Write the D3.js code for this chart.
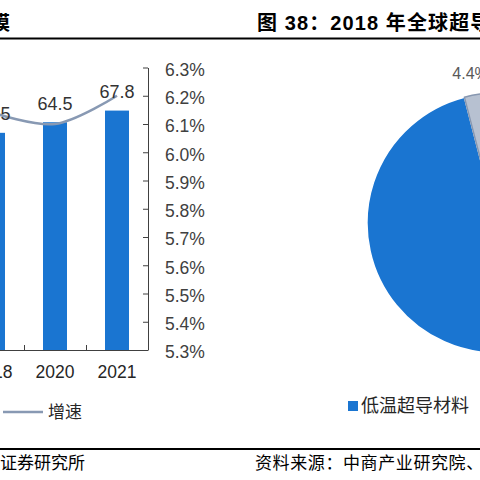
<!DOCTYPE html>
<html>
<head>
<meta charset="utf-8">
<script src="https://cdn.jsdelivr.net/npm/d3@7/dist/d3.min.js"></script>
<style>
  html, body { margin: 0; padding: 0; background: #fff; }
  svg { display: block; }
</style>
</head>
<body>
<svg id="chart" width="480" height="480"></svg>
<script>
// ---- Left chart data (bars: market size, line: growth rate) ----
const years = ["2018", "2020", "2021"];
const marketSize = [61.5, 64.5, 67.8];
const growthRate = [6.14, 6.10, 6.20];
const rightTicks = [5.3, 5.4, 5.5, 5.6, 5.7, 5.8, 5.9, 6.0, 6.1, 6.2, 6.3];

// ---- Right chart data (pie: 2018 structure) ----
const pieCategories = ["低温超导材料", "高温超导材料"];
const pieShares = [95.6, 4.4];
const pieLabels = ["", "4.4%"];

// ---- Texts ----
const leftTitle = "图 37：2015-2021 年全球超导材料市场规模";
const rightTitle = "图 38：2018 年全球超导材料市场结构";
const leftSource = "证券研究所";
const rightSource = "资料来源：中商产业研究院、国信证券经济研究所整理";
const lineLegend = "增速";

const svg = d3.select("#chart");
const LATIN = "'Liberation Sans', Arial, 'Noto Sans CJK SC', sans-serif";
const CJK = "'Noto Sans CJK SC', 'Liberation Sans', sans-serif";
const BLUE = "#1a75d1";
const GREY_LINE = "#8899b3";
const AXIS = "#404040";

// ---- Header & footer rules ----
svg.append("line").attr("x1", 0).attr("x2", 480).attr("y1", 38.5).attr("y2", 38.5)
  .attr("stroke", "#000").attr("stroke-width", 2);
svg.append("line").attr("x1", 0).attr("x2", 480).attr("y1", 449).attr("y2", 449)
  .attr("stroke", "#000").attr("stroke-width", 2);

svg.append("text").attr("x", 10).attr("y", 30).attr("text-anchor", "end")
  .attr("font-family", CJK).attr("font-weight", "bold").attr("font-size", 19.5)
  .attr("fill", "#000").text(leftTitle);
svg.append("text").attr("x", 257).attr("y", 30)
  .attr("font-family", LATIN).attr("font-weight", "bold").attr("font-size", 20)
  .attr("letter-spacing", 1.1).attr("fill", "#000").text(rightTitle);

svg.append("text").attr("x", 0).attr("y", 469)
  .attr("font-family", CJK).attr("font-size", 17).attr("fill", "#000").text(leftSource);
svg.append("text").attr("x", 255).attr("y", 469)
  .attr("font-family", CJK).attr("font-size", 17).attr("letter-spacing", 0.6)
  .attr("fill", "#000").text(rightSource);

// ---- Left chart ----
const x = d3.scaleBand().domain(years).range([-38, 148])
  .paddingInner(0.613).paddingOuter(0.3065);
const yLeft = d3.scaleLinear().domain([0, 80]).range([350, 67.5]);
const yRight = d3.scaleLinear().domain([5.3, 6.3]).range([350, 67.5]);

const left = svg.append("g");

left.selectAll("rect.bar").data(years).join("rect").attr("class", "bar")
  .attr("x", d => x(d)).attr("width", x.bandwidth())
  .attr("y", (d, i) => yLeft(marketSize[i]))
  .attr("height", (d, i) => yLeft(0) - yLeft(marketSize[i]))
  .attr("fill", BLUE);

// growth line (smoothed)
const line = d3.line()
  .x((d, i) => x(years[i]) + x.bandwidth() / 2)
  .y(d => yRight(d))
  .curve(d3.curveCatmullRom.alpha(0.5));
left.append("path").datum(growthRate).attr("d", line)
  .attr("fill", "none").attr("stroke", GREY_LINE).attr("stroke-width", 2.5);

// bar value labels
left.selectAll("text.val").data(years).join("text").attr("class", "val")
  .attr("x", d => x(d) + x.bandwidth() / 2)
  .attr("y", (d, i) => yLeft(marketSize[i]) - 12.5)
  .attr("text-anchor", "middle").attr("font-family", LATIN).attr("font-size", 18)
  .attr("fill", "#333").text((d, i) => marketSize[i].toFixed(1));

// right axis (ticks inward)
const rAxis = d3.axisRight(yRight).tickValues(rightTicks)
  .tickFormat(d => d.toFixed(1) + "%").tickSizeInner(-5).tickSizeOuter(0).tickPadding(17);
const rg = left.append("g").attr("transform", "translate(148,0)").call(rAxis);
rg.select(".domain").attr("stroke", AXIS);
rg.selectAll(".tick line").attr("stroke", AXIS);
rg.selectAll(".tick text").attr("font-family", LATIN).attr("font-size", 17.5)
  .attr("fill", AXIS).attr("dy", "0.45em");

// x axis
const step = x.step();
left.append("line").attr("x1", -200).attr("x2", 148)
  .attr("y1", yLeft(0) + 0.5).attr("y2", yLeft(0) + 0.5).attr("stroke", AXIS);
left.selectAll("line.xtick").data(years).join("line").attr("class", "xtick")
  .attr("x1", d => x(d) + x.bandwidth() / 2 + step / 2 + 0.5)
  .attr("x2", d => x(d) + x.bandwidth() / 2 + step / 2 + 0.5)
  .attr("y1", yLeft(0)).attr("y2", yLeft(0) - 5).attr("stroke", AXIS);
left.selectAll("text.xl").data(years).join("text").attr("class", "xl")
  .attr("x", d => x(d) + x.bandwidth() / 2).attr("y", 378)
  .attr("text-anchor", "middle").attr("font-family", LATIN).attr("font-size", 17.5)
  .attr("fill", "#262626").text(d => d);

// legend (line)
left.append("line").attr("x1", 3).attr("x2", 43).attr("y1", 412).attr("y2", 412)
  .attr("stroke", GREY_LINE).attr("stroke-width", 2.5);
left.append("text").attr("x", 48).attr("y", 418).attr("font-family", CJK)
  .attr("font-size", 17).attr("fill", "#262626").text(lineLegend);

// ---- Right chart: pie ----
const rot = 1.3 * Math.PI / 180;
const pie = d3.pie().sort(null).startAngle(rot).endAngle(rot + 2 * Math.PI);
const arcs = pie(pieShares);
const R = 130;
const arc = d3.arc().innerRadius(0).outerRadius(R);
const pg = svg.append("g").attr("transform", "translate(497,223)");
const fills = [BLUE, "#b7c1d1"];
const strokes = ["#ffffff", "#8797b0"];
pg.selectAll("path").data(arcs).join("path").attr("d", arc)
  .attr("fill", (d, i) => fills[i]).attr("stroke", (d, i) => strokes[i])
  .attr("stroke-width", 1.5).attr("stroke-linejoin", "round");

const labelArc = d3.arc().innerRadius(R + 21).outerRadius(R + 21);
pg.selectAll("text.pl").data(arcs).join("text").attr("class", "pl")
  .attr("transform", d => {
    const c = labelArc.centroid(d);
    return `translate(${c[0]},${c[1]})`;
  })
  .attr("text-anchor", "middle").attr("dx", -9).attr("dy", "0.35em")
  .attr("font-family", LATIN).attr("font-size", 16).attr("fill", "#595959")
  .text((d, i) => pieLabels[i]);

// pie legend
const lg = svg.append("g");
const legendX = [348, 490];
pieCategories.forEach((c, i) => {
  lg.append("rect").attr("x", legendX[i]).attr("y", 401).attr("width", 10).attr("height", 10)
    .attr("fill", fills[i]);
  lg.append("text").attr("x", legendX[i] + 13).attr("y", 412).attr("font-family", CJK)
    .attr("font-size", 18).attr("fill", "#262626").text(c);
});
</script>
</body>
</html>
